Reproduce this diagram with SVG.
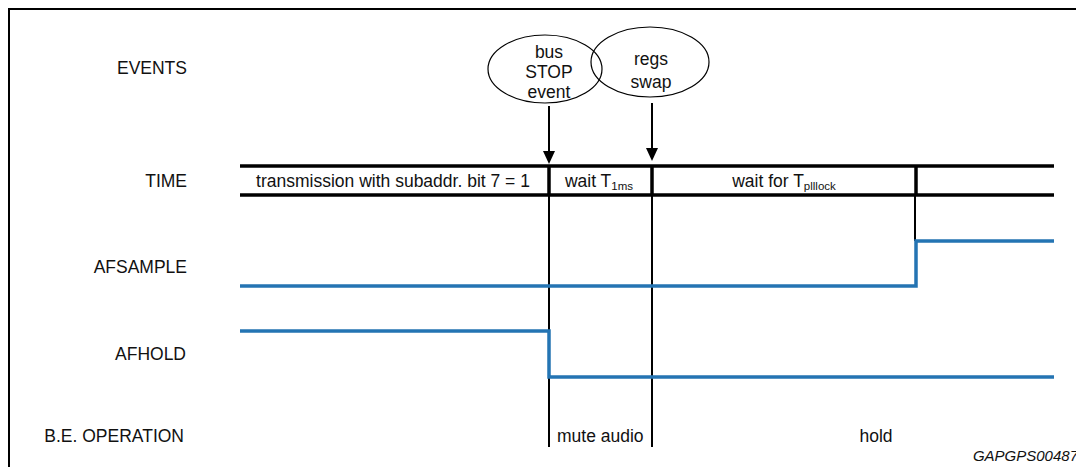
<svg xmlns="http://www.w3.org/2000/svg" width="1076" height="467" viewBox="0 0 1076 467">
<defs>
<style>
text{font-family:"Liberation Sans",Arial,sans-serif;font-size:17.5px;fill:#111}
.lbl{text-anchor:end}
.mid{text-anchor:middle}
.sub{font-size:11.5px}
.bus{stroke:#000;stroke-width:3.5;fill:none}
.vl{stroke:#000;stroke-width:2;fill:none}
.sig{stroke:#2474b3;stroke-width:3.5;fill:none}
.ev{fill:none;stroke:#000;stroke-width:1.2}
.ah{fill:#000}
</style>
</defs>
<rect width="1076" height="467" fill="#fff"/>
<path d="M9,467 V9 H1076" stroke="#000" stroke-width="2" fill="none"/>

<g id="row-labels">
<text class="lbl" x="187" y="74">EVENTS</text>
<text class="lbl" x="187" y="187">TIME</text>
<text class="lbl" x="187" y="273">AFSAMPLE</text>
<text class="lbl" x="186" y="360">AFHOLD</text>
<text class="lbl" x="184" y="442">B.E. OPERATION</text>
</g>

<g id="node-bus-stop">
<ellipse class="ev" cx="545" cy="69" rx="57" ry="34"/>
<text class="mid" x="549" y="58">bus</text>
<text class="mid" x="549" y="78">STOP</text>
<text class="mid" x="549" y="98">event</text>
</g>
<g id="node-regs-swap">
<ellipse class="ev" cx="650" cy="62" rx="59" ry="35"/>
<text class="mid" x="651" y="65">regs</text>
<text class="mid" x="651" y="88">swap</text>
</g>

<g id="time-bus">
<line class="bus" x1="240" y1="166" x2="1054" y2="166"/>
<line class="bus" x1="240" y1="195" x2="1054" y2="195"/>
<line class="bus" x1="549" y1="166" x2="549" y2="195"/>
<line class="bus" x1="652" y1="166" x2="652" y2="195"/>
<line class="bus" x1="916" y1="166" x2="916" y2="195"/>
<text class="mid" x="393" y="187">transmission with subaddr. bit 7 = 1</text>
<text class="mid" x="599" y="187">wait T<tspan class="sub" dy="3">1ms</tspan></text>
<text class="mid" x="784" y="187">wait for T<tspan class="sub" dy="3">plllock</tspan></text>
</g>

<g id="connectors">
<line x1="549" y1="106" x2="549" y2="155" stroke="#000" stroke-width="2"/>
<path class="ah" d="M543,151 L555,151 L549,164 Z"/>
<line x1="652" y1="103" x2="652" y2="152" stroke="#000" stroke-width="2"/>
<path class="ah" d="M646,148 L658,148 L652,161 Z"/>
<line class="vl" x1="549" y1="195" x2="549" y2="447"/>
<line class="vl" x1="652" y1="195" x2="652" y2="447"/>
<line class="vl" x1="915" y1="195" x2="915" y2="241"/>
</g>

<g id="afsample">
<polyline class="sig" points="240,286 916,286 916,241 1054,241"/>
</g>
<g id="afhold">
<polyline class="sig" points="240,331 549,331 549,377 1054,377"/>
</g>

<g id="be-operation">
<text x="557" y="442">mute audio</text>
<text class="mid" x="876" y="442">hold</text>
</g>

<text x="1078" y="461" text-anchor="end" style="font-size:15px;font-style:italic">GAPGPS00487</text>
</svg>
